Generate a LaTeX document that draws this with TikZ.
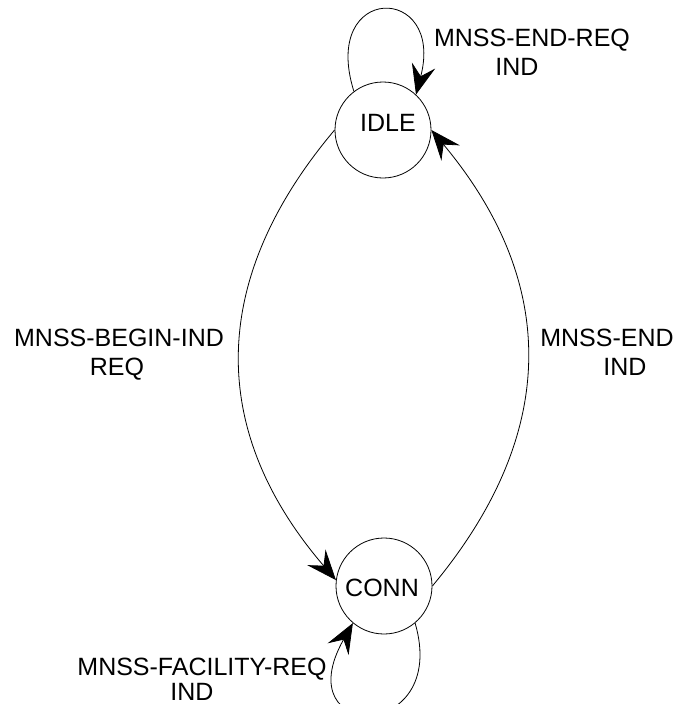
\documentclass[tikz,border=0pt]{standalone}
\usepackage{fontspec}
\setmainfont{Liberation Sans}
\usetikzlibrary{arrows.meta}
\tikzset{
  state/.style={draw,circle,minimum size=96pt,inner sep=0pt,line width=0.8pt},
  lbl/.style={inner sep=0pt,text height=18pt,text depth=0pt,font=\fontsize{25}{30}\selectfont},
  trans/.style={line width=0.8pt,-{Stealth[length=30pt,width=24pt,inset=11pt]}}
}
\begin{document}
\begin{tikzpicture}
\useasboundingbox (0pt,0pt) rectangle (677pt,-704pt);
\node[state] (idle) at (383pt,-130pt) {};
\node[state] (conn) at (384pt,-586pt) {};
\node[lbl] (idleT) at (388pt,-122pt) {IDLE};
\node[lbl] (connT) at (382pt,-587pt) {CONN};
% labels
\node[lbl] (t1) at (532pt,-37pt) {MNSS-END-REQ};
\node[lbl] (t2) at (517pt,-66pt) {IND};
\node[lbl] (l1) at (119pt,-337pt) {MNSS-BEGIN-IND};
\node[lbl] (l2) at (117pt,-366pt) {REQ};
\node[lbl] (r1) at (607pt,-337pt) {MNSS-END};
\node[lbl] (r2) at (625pt,-366pt) {IND};
\node[lbl] (b1) at (202pt,-666pt) {MNSS-FACILITY-REQ};
\node[lbl] (b2) at (192pt,-691pt) {IND};
% transitions
\draw[trans] (idle.127) .. controls (320pt,17pt) and (445pt,17pt) .. (idle.47);
\draw[trans] (idle.180) .. controls (208pt,-280pt) and (208pt,-431pt) .. (conn.173);
\draw[trans] (conn.0) .. controls (559pt,-434pt) and (559pt,-283pt) .. (idle.0);
\draw[trans] (conn.-50) .. controls (450pt,-743pt) and (285pt,-743pt) .. (conn.-130);
\end{tikzpicture}
\end{document}
